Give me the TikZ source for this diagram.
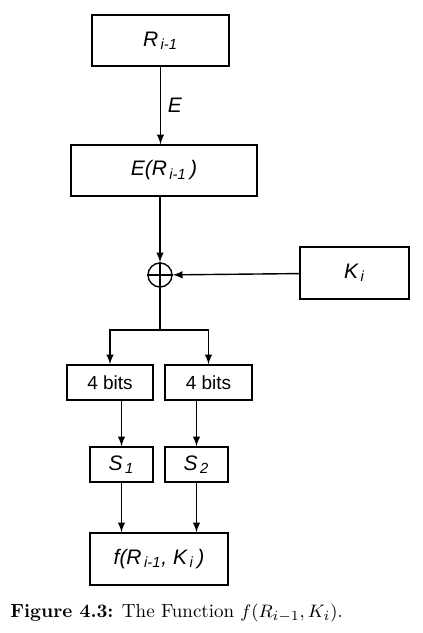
\documentclass[tikz,border=0pt]{standalone}
\usepackage{fontspec}
\newfontfamily\lblfont{Liberation Sans}
\usetikzlibrary{positioning}

\tikzset{
	blk/.style={draw, line width=0.7pt, inner sep=0pt, font=\lblfont\itshape\fontsize{10.5}{12}\selectfont},
	bitsblk/.style={blk, font=\lblfont\upshape\fontsize{9.5}{11}\selectfont},
	lnk/.style={line width=0.7pt}
}

\begin{document}
\begin{tikzpicture}[x=0.5pt, y=-0.5pt]
	\useasboundingbox (0,0) rectangle (423,633);
	
	%%% Блоки
	
	% Верхняя часть
	\node[blk, minimum width=68.5pt, minimum height=25.5pt] (R) at (160.5,40.5) {R\textsubscript{\,i-1}};
	\node[blk, minimum width=93pt, minimum height=25.5pt] (ER) at (164,170.5) {E(R\textsubscript{\,i-1}\,)};
	\node[draw, lnk, circle, minimum size=12pt, inner sep=0pt] (xor) at (160,275) {};
	\node[blk, minimum width=54.5pt, minimum height=26pt] (K) at (354.5,273) {K\textsubscript{\,i}};
	
	% Нижняя часть
	\node[bitsblk, minimum width=43pt, minimum height=17.5pt] (bitsL) at (110,382.5) {4 bits};
	\node[bitsblk, minimum width=43.5pt, minimum height=17.5pt] (bitsR) at (208.5,382.5) {4 bits};
	\node[blk, minimum width=31.5pt, minimum height=17.5pt] (sL) at (121.5,464.5) {S\textsubscript{\,1}};
	\node[blk, minimum width=31.5pt, minimum height=17.5pt] (sR) at (196.5,464.5) {S\textsubscript{\,2}};
	\node[blk, minimum width=69pt, minimum height=26pt] (f) at (159,559) {f(R\textsubscript{\,i-1}, K\textsubscript{\,i}\,)};
	
	%%% Связи
	
	\draw[lnk, -latex] (R.south) -- (R.south |- ER.north) node[midway, right, font=\lblfont\itshape\fontsize{10.5}{12}\selectfont] {E};
	\draw[lnk, -latex] (ER.south -| xor) -- (xor);
	\draw[lnk] (xor.north) -- (xor.south) (xor.west) -- (xor.east);
	\draw[lnk, -latex] (K) -- (xor);
	
	\coordinate (split) at (160,330);
	\draw[lnk] (xor) -- (split);
	\draw[lnk, -latex] (split) -| (bitsL);
	\draw[lnk, -latex] (split) -| (bitsR);
	
	\draw[lnk, -latex] (bitsL.south -| sL) -- (sL);
	\draw[lnk, -latex] (bitsR.south -| sR) -- (sR);
	\draw[lnk, -latex] (sL) -- (sL |- f.north);
	\draw[lnk, -latex] (sR) -- (sR |- f.north);
	
	%%% Подпись
	
	\node[anchor=base west, inner sep=0pt, font=\fontsize{9.5}{11}\selectfont] (cap) at (10,617) {\textbf{Figure 4.3:} The Function $f(R_{i-1}, K_i)$.};
\end{tikzpicture}
\end{document}
